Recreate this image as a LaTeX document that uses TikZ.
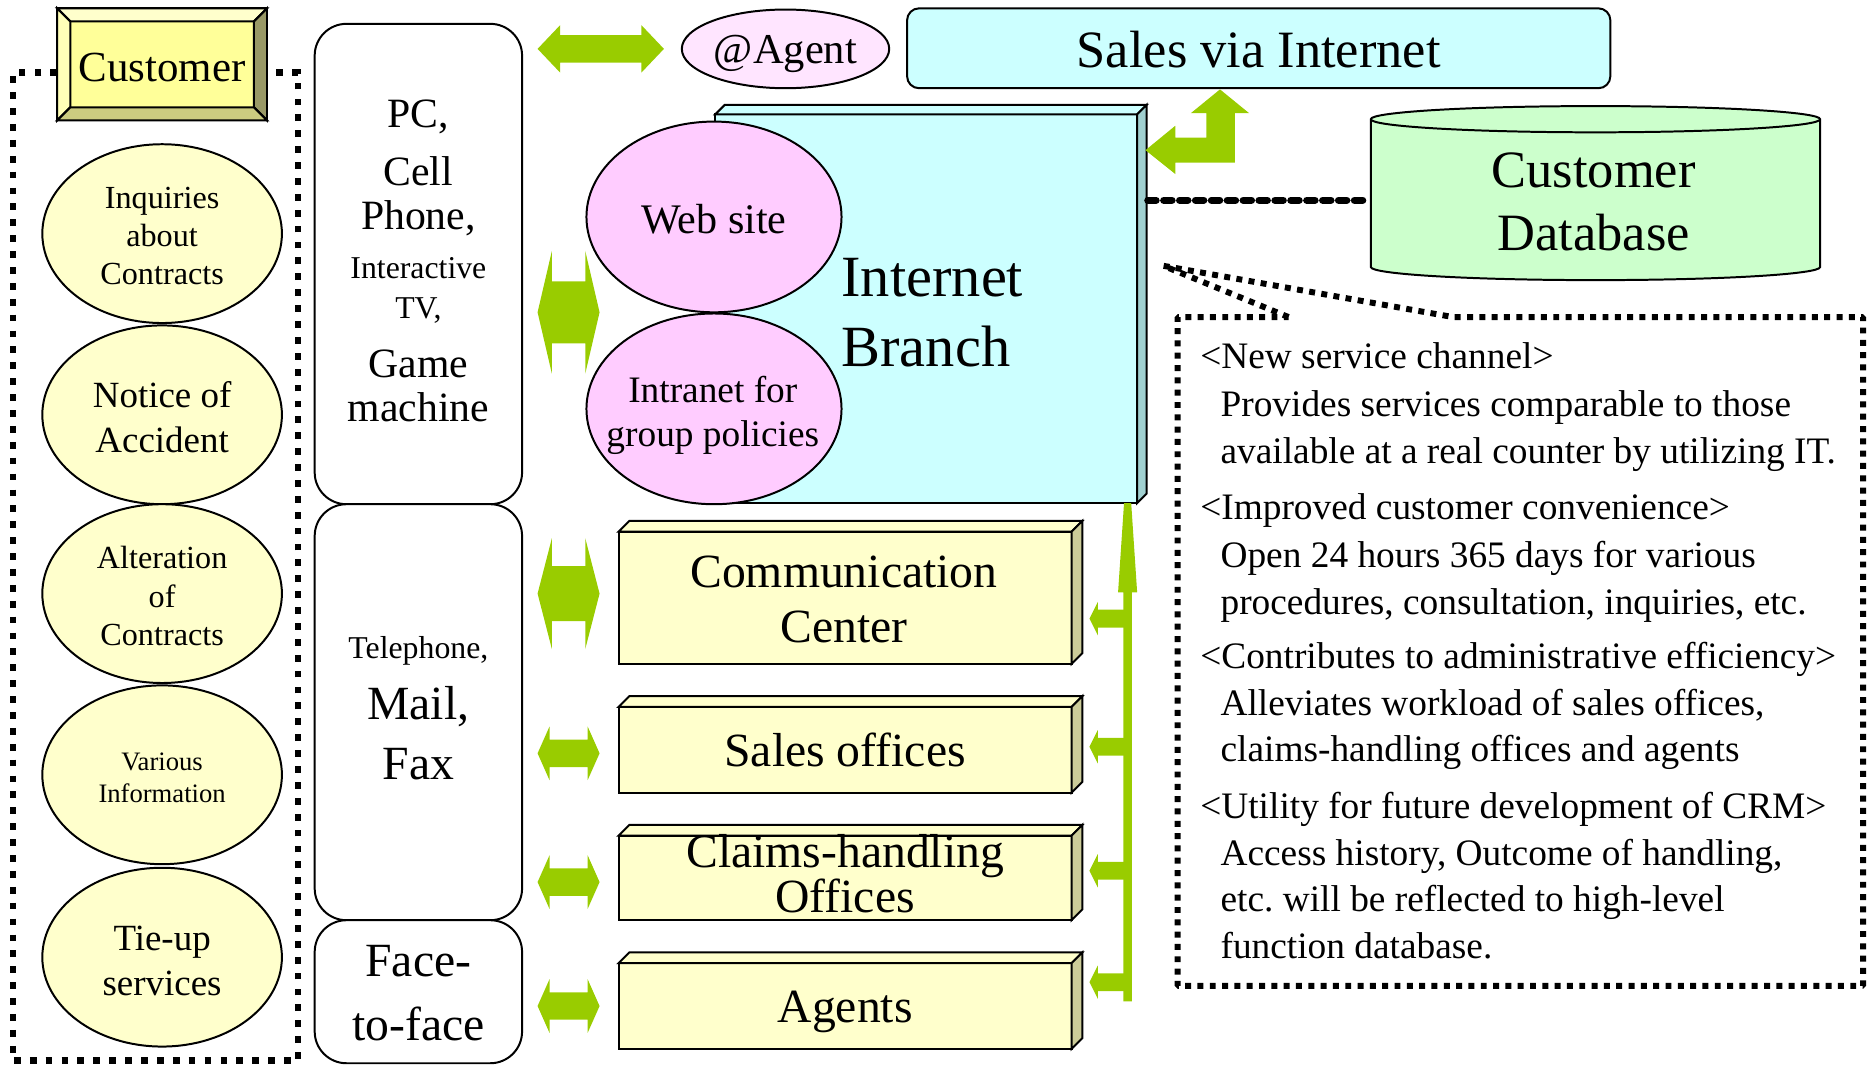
\documentclass[tikz,border=0pt]{standalone}
\usepackage{fontspec}
\setmainfont{Liberation Serif}
\usetikzlibrary{calc,shapes.geometric}
\definecolor{grn}{HTML}{99CC00}
\definecolor{ylw}{HTML}{FFFFCC}
\definecolor{ylwside}{HTML}{CCCC99}
\definecolor{cyn}{HTML}{CCFFFF}
\definecolor{cynside}{HTML}{A0D0D0}
\definecolor{pnk}{HTML}{FFCCFF}
\definecolor{pnklt}{HTML}{FFE5FF}
\definecolor{dbg}{HTML}{CCFFCC}
\definecolor{cust}{HTML}{FFFF99}
\definecolor{custtop}{HTML}{FFFFCC}
\definecolor{custleft}{HTML}{FFFFB8}
\definecolor{custright}{HTML}{999966}
\definecolor{custbot}{HTML}{CCCC80}
\newcommand{\FS}[2]{\fontsize{#1pt}{#2pt}\selectfont}
\newcommand{\gda}[6]{\fill[grn] (#1,#3) -- ({#1+#4},{#3-#5}) -- ({#1+#4},{#3-#6}) -- ({#2-#4},{#3-#6}) -- ({#2-#4},{#3-#5}) -- (#2,#3) -- ({#2-#4},{#3+#5}) -- ({#2-#4},{#3+#6}) -- ({#1+#4},{#3+#6}) -- ({#1+#4},{#3+#5}) -- cycle;}
\newcommand{\threed}[4]{%
  \filldraw[fill=#3] (#1.north west) -- ++(#2,-#2) -- ($(#1.north east)+(#2,-#2)$) -- (#1.north east) -- cycle;
  \filldraw[fill=#4] (#1.north east) -- ++(#2,-#2) -- ($(#1.south east)+(#2,-#2)$) -- (#1.south east) -- cycle;}
\frenchspacing
\begin{document}
\begin{tikzpicture}[x=0.6pt,y=-0.6pt,line width=1pt,line join=miter,
  every node/.style={inner sep=0pt,outer sep=0pt},
  wh/.style 2 args={minimum width=#1*0.6pt,minimum height=#2*0.6pt},
  oval/.style={ellipse,draw,fill=ylw,wh={201}{150}},
  rbox/.style={draw,fill=white,rounded corners=16pt,wh={174}{#1}},
  ybox/.style={draw,fill=ylw,wh={380}{#1}},
  custdot/.style={line width=3.4pt,dash pattern=on 3.4pt off 4.6pt},
  tbdot/.style={line width=3pt,dash pattern=on 3pt off 3.2pt,line join=bevel},
  dbline/.style={line width=3.7pt,dash pattern=on 4.1pt off 3.9pt,line cap=round}]
\useasboundingbox (0,0) rectangle (1568,895);

% ---------- customer column ----------
\draw[custdot] (48,61) -- (11,61) -- (11,890) -- (250,890) -- (250,61) -- (224,61);
\node[draw,fill=cust,wh={176}{94}] (cust) at (136,54) {};
\filldraw[fill=custtop] (48,7) -- (224,7) -- (213,18) -- (59,18) -- cycle;
\filldraw[fill=custleft] (48,7) -- (59,18) -- (59,90) -- (48,101) -- cycle;
\filldraw[fill=custright] (224,7) -- (224,101) -- (213,90) -- (213,18) -- cycle;
\filldraw[fill=custbot] (48,101) -- (224,101) -- (213,90) -- (59,90) -- cycle;
\node[anchor=base,font=\FS{21.6}{26}] (custt) at (136,68) {Customer};

\node[oval] (e1) at (136,196) {};
\node[oval] (e2) at (136,348) {};
\node[oval] (e3) at (136,498) {};
\node[oval] (e4) at (136,650) {};
\node[oval] (e5) at (136,803) {};
\node[align=center,font=\FS{16.2}{19.2}] (e1t) at (136,198) {Inquiries\\about\\Contracts};
\node[align=center,font=\FS{18.6}{22.8}] (e2t) at (136,350) {Notice of\\Accident};
\node[align=center,font=\FS{16.2}{19.2}] (e3t) at (136,500) {Alteration\\of\\Contracts};
\node[align=center,font=\FS{13.4}{16.2}] (e4t) at (136,652.5) {Various\\Information};
\node[align=center,font=\FS{18.6}{22.8}] (e5t) at (136,806) {Tie-up\\services};

% ---------- channel column ----------
\node[rbox=403] (r1) at (351,221.5) {};
\node[rbox=349] (r2) at (351,597.5) {};
\node[rbox=120] (r3) at (351,832) {};
\node[anchor=base,font=\FS{21}{25}] (p1) at (351,106.6) {PC,};
\node[anchor=base,font=\FS{21}{25}] (p2) at (351,155.6) {Cell};
\node[anchor=base,font=\FS{21}{25}] (p3) at (351,192.6) {Phone,};
\node[anchor=base,font=\FS{16}{19}] (p4) at (351,233.8) {Interactive};
\node[anchor=base,font=\FS{16}{19}] (p5) at (351,266.8) {TV,};
\node[anchor=base,font=\FS{21}{25}] (p6) at (351,316.6) {Game};
\node[anchor=base,font=\FS{21}{25}] (p7) at (351,353.6) {machine};
\node[anchor=base,font=\FS{16}{19}] (q1) at (351,552.8) {Telephone,};
\node[anchor=base,font=\FS{24}{28}] (q2) at (351,603.2) {Mail,};
\node[anchor=base,font=\FS{24}{28}] (q3) at (351,654.2) {Fax};
\node[anchor=base,font=\FS{24}{28}] (f1) at (351,819.2) {Face-};
\node[anchor=base,font=\FS{24}{28}] (f2) at (351,872.6) {to-face};

% ---------- green block arrows ----------
\gda{451}{557}{41}{19}{20}{11.5}
\gda{451}{503}{262}{12}{51.5}{26}
\gda{451}{503}{498}{12}{46.5}{23}
\gda{451}{503}{632}{10}{22.5}{11.5}
\gda{451}{503}{740}{10}{22.5}{11.5}
\gda{451}{503}{844}{10}{22.5}{11.5}

% ---------- top row ----------
\node[ellipse,draw,fill=pnklt,wh={174}{66}] (agent) at (659,41) {};
\node[anchor=base,font=\FS{21.4}{25}] (agentt) at (659,53) {@Agent};
\node[draw,fill=cyn,rounded corners=6pt,wh={590}{67}] (svi) at (1056,40.5) {};
\node[anchor=base,font=\FS{26.4}{31}] (svit) at (1056,56.5) {Sales via Internet};

% ---------- Internet branch ----------
\node[draw,fill=cyn,wh={354}{326}] (ib) at (777,259) {};
\threed{ib}{8}{cyn}{cynside}
\node[ellipse,draw,fill=pnk,wh={214}{160}] (web) at (599,182) {};
\node[ellipse,draw,fill=pnk,wh={214}{160}] (intra) at (599,343) {};
\node[anchor=base,font=\FS{21.2}{25}] (webt) at (599,195.7) {Web site};
\node[align=center,font=\FS{18.8}{22.2}] (intrat) at (598,348.5) {Intranet for\\group policies};
\node[anchor=west,align=left,font=\FS{29.4}{35.4}] (ibt) at (706,262.5) {Internet\\Branch};

% L-shaped double arrow
\fill[grn] (1023.5,75) -- (1048,95) -- (1036,95) -- (1036,136.5) -- (986,136.5) -- (986,146) -- (961,126) -- (986,105.5) -- (986,115.5) -- (1012,115.5) -- (1012,95) -- (999,95) -- cycle;

% ---------- customer database ----------
\node[wh={377}{124}] (db) at (1338.5,162) {};
\filldraw[fill=dbg] (db.north west) -- (db.south west) arc[start angle=180,end angle=0,x radius=188.5,y radius=11] -- (db.north east) arc[start angle=0,end angle=-180,x radius=188.5,y radius=11] -- cycle;
\draw (db.north west) arc[start angle=180,end angle=0,x radius=188.5,y radius=11];
\node[align=center,font=\FS{26.4}{31.8}] (dbt) at (1337,169.5) {Customer\\Database};
\coordinate (ibr) at (963,168);
\draw[dbline] (ibr) -- ($(ibr -| db.west)+(-3,0)$);

% ---------- yellow offices ----------
\node[ybox=111] (cc) at (709,501.5) {};
\node[ybox=72] (so) at (709,629) {};
\node[ybox=71] (ch) at (709,736.5) {};
\node[ybox=72] (ag) at (709,844) {};
\threed{cc}{9}{ylw}{ylwside}
\threed{so}{9}{ylw}{ylwside}
\threed{ch}{9}{ylw}{ylwside}
\threed{ag}{9}{ylw}{ylwside}
\node[align=center,font=\FS{24}{27.6}] (cct) at (708,503) {Communication\\Center};
\node[anchor=base,font=\FS{24}{28}] (sot) at (709,643.2) {Sales offices};
\node[align=center,font=\FS{24}{22.8}] (cht) at (709,733) {Claims-handling\\Offices};
\node[anchor=base,font=\FS{24}{28}] (agt) at (709,858.2) {Agents};

% bus to Internet branch
\fill[grn] (943,422) -- (949,422) -- (954,497) -- (949.5,497) -- (949.5,840) -- (942.5,840) -- (942.5,497) -- (938,497) -- cycle;
\foreach \yy in {519,626.5,730.5,824}
  \fill[grn] (914,\yy) -- (921,\yy-14) -- (921,\yy-7.5) -- (943,\yy-7.5) -- (943,\yy+7.5) -- (921,\yy+7.5) -- (921,\yy+14) -- cycle;

% ---------- text box with callout ----------
\node[wh={575}{561}] (tb) at (1275.5,546.5) {};
\draw[tbdot] (1081,266) -- (976,223) -- (1219,266) -- (tb.north east) -- (tb.south east) -- (tb.south west) -- (tb.north west) -- cycle;
\foreach \xx/\yy/\mytext [count=\i] in {
 1007/309.5/{<New service channel>},
 1024/349.5/{Provides services comparable to those},
 1024/389/{available at a real counter by utilizing IT.},
 1007/436/{<Improved customer convenience>},
 1024/476/{Open 24 hours 365 days for various},
 1024/515.5/{procedures, consultation, inquiries, etc.},
 1007/561/{<Contributes to administrative efficiency>},
 1024/600.5/{Alleviates workload of sales offices,},
 1024/639/{claims-handling offices and agents},
 1007/686.5/{<Utility for future development of CRM>},
 1024/726/{Access history, Outcome of handling,},
 1024/765/{etc. will be reflected to high-level},
 1024/804.5/{function database.}}
  \node[anchor=base west,font=\FS{18.8}{22}] (tl\i) at (\xx,\yy) {\mytext};
\end{tikzpicture}
\end{document}
